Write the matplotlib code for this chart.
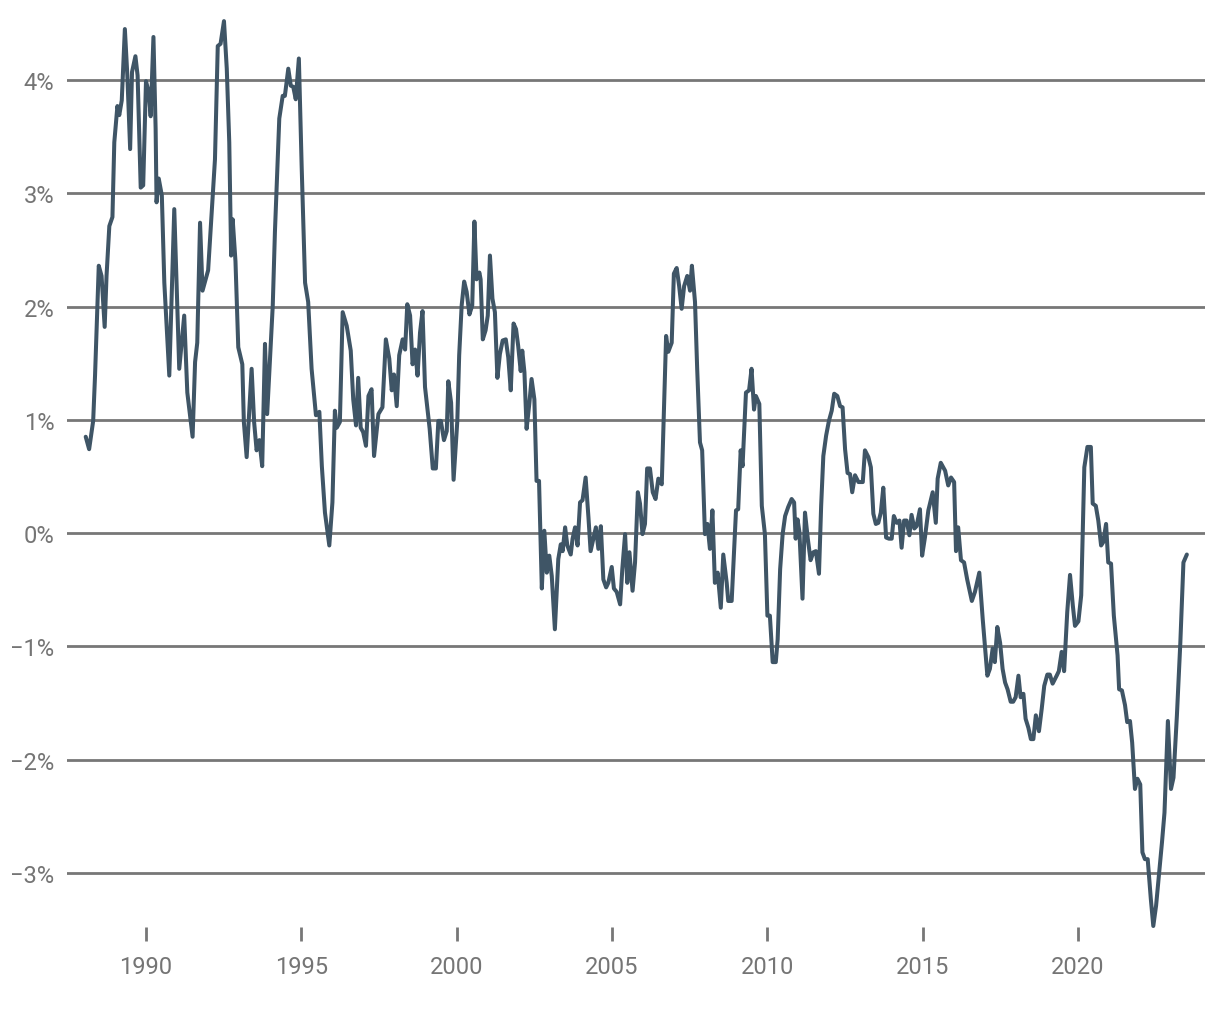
import matplotlib
matplotlib.use("Agg")
import matplotlib.pyplot as plt
from matplotlib.ticker import FuncFormatter

plt.rcParams['font.family'] = ['Roboto', 'DejaVu Sans']

# decimal year, value in %
years = [
    1988.06, 1988.17, 1988.30, 1988.36, 1988.48, 1988.57, 1988.67, 1988.73, 1988.82, 1988.92,
    1988.98, 1989.08, 1989.14, 1989.22, 1989.32, 1989.40, 1989.49, 1989.55, 1989.66, 1989.73,
    1989.83, 1989.91, 1990.00, 1990.09, 1990.15, 1990.24, 1990.31, 1990.34, 1990.41, 1990.51,
    1990.59, 1990.75, 1990.91, 1991.07, 1991.23, 1991.33, 1991.50, 1991.58, 1991.65, 1991.74,
    1991.82, 1992.00, 1992.22, 1992.31, 1992.40, 1992.51, 1992.60, 1992.68, 1992.74, 1992.79,
    1992.88, 1992.97, 1993.10, 1993.15, 1993.24, 1993.40, 1993.48, 1993.56, 1993.65, 1993.74,
    1993.83, 1993.90, 1994.08, 1994.15, 1994.29, 1994.40, 1994.47, 1994.58, 1994.66, 1994.74,
    1994.82, 1994.92, 1995.01, 1995.12, 1995.22, 1995.33, 1995.47, 1995.58, 1995.66, 1995.76,
    1995.90, 1996.00, 1996.08, 1996.14, 1996.24, 1996.33, 1996.46, 1996.59, 1996.67, 1996.76,
    1996.83, 1996.91, 1996.99, 1997.08, 1997.16, 1997.26, 1997.34, 1997.48, 1997.61, 1997.72,
    1997.83, 1997.91, 1997.98, 1998.07, 1998.15, 1998.26, 1998.34, 1998.41, 1998.50, 1998.58,
    1998.66, 1998.74, 1998.82, 1998.90, 1998.98, 1999.13, 1999.23, 1999.33, 1999.41, 1999.49,
    1999.59, 1999.68, 1999.73, 1999.82, 1999.90, 2000.02, 2000.08, 2000.16, 2000.24, 2000.32,
    2000.41, 2000.50, 2000.57, 2000.64, 2000.73, 2000.77, 2000.84, 2000.93, 2001.00, 2001.07,
    2001.15, 2001.23, 2001.31, 2001.39, 2001.48, 2001.58, 2001.66, 2001.74, 2001.83, 2001.91,
    2001.98, 2002.06, 2002.11, 2002.18, 2002.25, 2002.34, 2002.41, 2002.50, 2002.57, 2002.65,
    2002.74, 2002.82, 2002.90, 2002.98, 2003.06, 2003.16, 2003.27, 2003.35, 2003.41, 2003.49,
    2003.56, 2003.67, 2003.73, 2003.81, 2003.89, 2003.97, 2004.05, 2004.15, 2004.24, 2004.31,
    2004.40, 2004.48, 2004.56, 2004.64, 2004.72, 2004.81, 2004.88, 2004.99, 2005.06, 2005.15,
    2005.26, 2005.33, 2005.42, 2005.49, 2005.56, 2005.66, 2005.74, 2005.83, 2005.90, 2005.98,
    2006.06, 2006.13, 2006.22, 2006.31, 2006.40, 2006.49, 2006.60, 2006.74, 2006.81, 2006.92,
    2006.99, 2007.08, 2007.16, 2007.24, 2007.32, 2007.42, 2007.51, 2007.57, 2007.67, 2007.74,
    2007.83, 2007.90, 2007.99, 2008.07, 2008.15, 2008.23, 2008.31, 2008.40, 2008.50, 2008.58,
    2008.69, 2008.74, 2008.85, 2008.99, 2009.06, 2009.14, 2009.20, 2009.31, 2009.41, 2009.49,
    2009.57, 2009.63, 2009.74, 2009.82, 2009.92, 2010.00, 2010.08, 2010.17, 2010.27, 2010.33,
    2010.41, 2010.49, 2010.57, 2010.67, 2010.78, 2010.86, 2010.91, 2010.97, 2011.03, 2011.13,
    2011.21, 2011.30, 2011.39, 2011.48, 2011.56, 2011.66, 2011.73, 2011.80, 2011.89, 2011.98,
    2012.07, 2012.15, 2012.25, 2012.34, 2012.42, 2012.50, 2012.58, 2012.66, 2012.73, 2012.82,
    2012.93, 2013.07, 2013.14, 2013.25, 2013.33, 2013.41, 2013.49, 2013.57, 2013.65, 2013.73,
    2013.82, 2013.91, 2014.00, 2014.07, 2014.16, 2014.25, 2014.32, 2014.40, 2014.48, 2014.57,
    2014.64, 2014.73, 2014.80, 2014.91, 2014.98, 2015.07, 2015.18, 2015.32, 2015.42, 2015.48,
    2015.58, 2015.72, 2015.82, 2015.91, 2016.01, 2016.07, 2016.14, 2016.23, 2016.33, 2016.43,
    2016.58, 2016.68, 2016.82, 2016.93, 2017.08, 2017.16, 2017.25, 2017.32, 2017.40, 2017.49,
    2017.57, 2017.65, 2017.73, 2017.83, 2017.91, 2017.99, 2018.08, 2018.15, 2018.24, 2018.31,
    2018.40, 2018.48, 2018.56, 2018.64, 2018.74, 2018.83, 2018.91, 2019.01, 2019.09, 2019.18,
    2019.31, 2019.38, 2019.47, 2019.55, 2019.65, 2019.74, 2019.83, 2019.90, 2020.01, 2020.10,
    2020.20, 2020.30, 2020.41, 2020.47, 2020.57, 2020.65, 2020.74, 2020.81, 2020.90, 2020.97,
    2021.06, 2021.15, 2021.27, 2021.32, 2021.41, 2021.51, 2021.58, 2021.67, 2021.74, 2021.83,
    2021.91, 2022.00, 2022.07, 2022.15, 2022.24, 2022.34, 2022.42, 2022.51, 2022.61, 2022.70,
    2022.78, 2022.89, 2022.99, 2023.07, 2023.18, 2023.29, 2023.39, 2023.50,
]
values = [
    0.85, 0.74, 0.99, 1.39, 2.36, 2.27, 1.82, 2.27, 2.71, 2.79,
    3.45, 3.77, 3.69, 3.82, 4.45, 4.04, 3.39, 4.07, 4.21, 4.04,
    3.05, 3.07, 3.99, 3.89, 3.68, 4.38, 3.57, 2.92, 3.13, 2.98,
    2.21, 1.39, 2.86, 1.45, 1.92, 1.24, 0.85, 1.51, 1.68, 2.74,
    2.14, 2.32, 3.30, 4.30, 4.32, 4.52, 4.10, 3.45, 2.45, 2.77,
    2.40, 1.64, 1.49, 0.98, 0.67, 1.45, 0.98, 0.73, 0.82, 0.59,
    1.67, 1.05, 2.01, 2.66, 3.66, 3.86, 3.86, 4.10, 3.95, 3.94,
    3.83, 4.19, 3.24, 2.21, 2.04, 1.45, 1.04, 1.07, 0.59, 0.18,
    -0.11, 0.27, 1.08, 0.93, 0.98, 1.95, 1.83, 1.61, 1.18, 0.95,
    1.37, 0.93, 0.89, 0.77, 1.21, 1.27, 0.68, 1.05, 1.11, 1.71,
    1.54, 1.26, 1.40, 1.12, 1.57, 1.71, 1.62, 2.02, 1.92, 1.49,
    1.62, 1.39, 1.77, 1.96, 1.29, 0.92, 0.57, 0.57, 0.99, 0.99,
    0.82, 0.90, 1.34, 1.15, 0.47, 0.99, 1.57, 2.01, 2.22, 2.13,
    1.93, 2.01, 2.75, 2.24, 2.30, 2.24, 1.71, 1.79, 1.92, 2.45,
    2.07, 1.95, 1.37, 1.58, 1.70, 1.71, 1.55, 1.26, 1.85, 1.80,
    1.65, 1.43, 1.61, 1.42, 0.92, 1.15, 1.36, 1.18, 0.46, 0.46,
    -0.49, 0.02, -0.35, -0.20, -0.38, -0.85, -0.23, -0.10, -0.16, 0.05,
    -0.11, -0.19, -0.05, 0.05, -0.11, 0.27, 0.29, 0.49, 0.14, -0.16,
    -0.05, 0.05, -0.14, 0.06, -0.41, -0.48, -0.44, -0.30, -0.49, -0.52,
    -0.63, -0.32, -0.01, -0.44, -0.17, -0.51, -0.26, 0.36, 0.26, -0.01,
    0.08, 0.57, 0.57, 0.36, 0.30, 0.48, 0.43, 1.74, 1.60, 1.68,
    2.29, 2.34, 2.18, 1.98, 2.18, 2.27, 2.14, 2.36, 2.04, 1.45,
    0.80, 0.73, -0.01, 0.08, -0.14, 0.20, -0.44, -0.35, -0.66, -0.19,
    -0.44, -0.60, -0.60, 0.20, 0.21, 0.73, 0.59, 1.24, 1.26, 1.45,
    1.09, 1.21, 1.14, 0.24, -0.01, -0.73, -0.73, -1.14, -1.14, -0.94,
    -0.32, -0.01, 0.15, 0.23, 0.30, 0.27, -0.05, 0.12, 0.01, -0.58,
    0.18, -0.05, -0.24, -0.17, -0.16, -0.36, 0.24, 0.68, 0.86, 0.99,
    1.08, 1.23, 1.21, 1.12, 1.11, 0.74, 0.53, 0.52, 0.36, 0.51,
    0.45, 0.45, 0.73, 0.67, 0.58, 0.17, 0.08, 0.09, 0.18, 0.40,
    -0.04, -0.05, -0.05, 0.15, 0.09, 0.11, -0.13, 0.11, 0.11, -0.02,
    0.16, 0.04, 0.06, 0.21, -0.20, -0.04, 0.20, 0.36, 0.09, 0.48,
    0.62, 0.55, 0.42, 0.49, 0.45, -0.16, 0.05, -0.24, -0.26, -0.41,
    -0.60, -0.52, -0.35, -0.76, -1.26, -1.20, -1.02, -1.14, -0.83, -0.97,
    -1.20, -1.32, -1.38, -1.49, -1.49, -1.45, -1.26, -1.45, -1.42, -1.64,
    -1.72, -1.82, -1.82, -1.61, -1.75, -1.55, -1.35, -1.25, -1.25, -1.33,
    -1.26, -1.22, -1.05, -1.22, -0.70, -0.37, -0.64, -0.82, -0.78, -0.55,
    0.58, 0.76, 0.76, 0.26, 0.24, 0.11, -0.11, -0.08, 0.08, -0.26,
    -0.27, -0.73, -1.08, -1.38, -1.39, -1.52, -1.67, -1.66, -1.85, -2.26,
    -2.17, -2.22, -2.82, -2.88, -2.88, -3.23, -3.47, -3.29, -3.00, -2.73,
    -2.47, -1.66, -2.26, -2.16, -1.61, -0.97, -0.26, -0.19,
]

y_ticks = [-3, -2, -1, 0, 1, 2, 3, 4]
x_ticks = [1990, 1995, 2000, 2005, 2010, 2015, 2020]

line_color = '#3f5566'
grid_color = '#777777'
text_color = '#757575'


def pct(v, pos):
    v = int(round(v))
    if v < 0:
        return '\u2212%d%%' % abs(v)
    return '%d%%' % v


def main():
    fig = plt.figure(figsize=(12.2, 10.2), dpi=100)
    ax = fig.add_axes([0.0549, 0.0902, 0.9328, 0.8951])

    for t in y_ticks:
        ax.axhline(t, color=grid_color, lw=2, zorder=1)
    ax.plot(years, values, color=line_color, lw=2.9, zorder=3,
            solid_joinstyle='round', solid_capstyle='round', clip_on=False)

    ax.set_xlim(1987.457, 2024.084)
    ax.set_ylim(-3.479, 4.583)

    for s in ax.spines.values():
        s.set_visible(False)

    ax.set_yticks(y_ticks)
    ax.yaxis.set_major_formatter(FuncFormatter(pct))
    ax.tick_params(axis='y', length=0, pad=9, labelsize=17, labelcolor=text_color)

    ax.set_xticks(x_ticks)
    ax.set_xticklabels([str(x) for x in x_ticks])
    ax.tick_params(axis='x', length=10, width=2, color=grid_color, pad=10,
                   labelsize=17, labelcolor=text_color)

    fig.savefig('out.png', dpi=100)


if __name__ == '__main__':
    main()
